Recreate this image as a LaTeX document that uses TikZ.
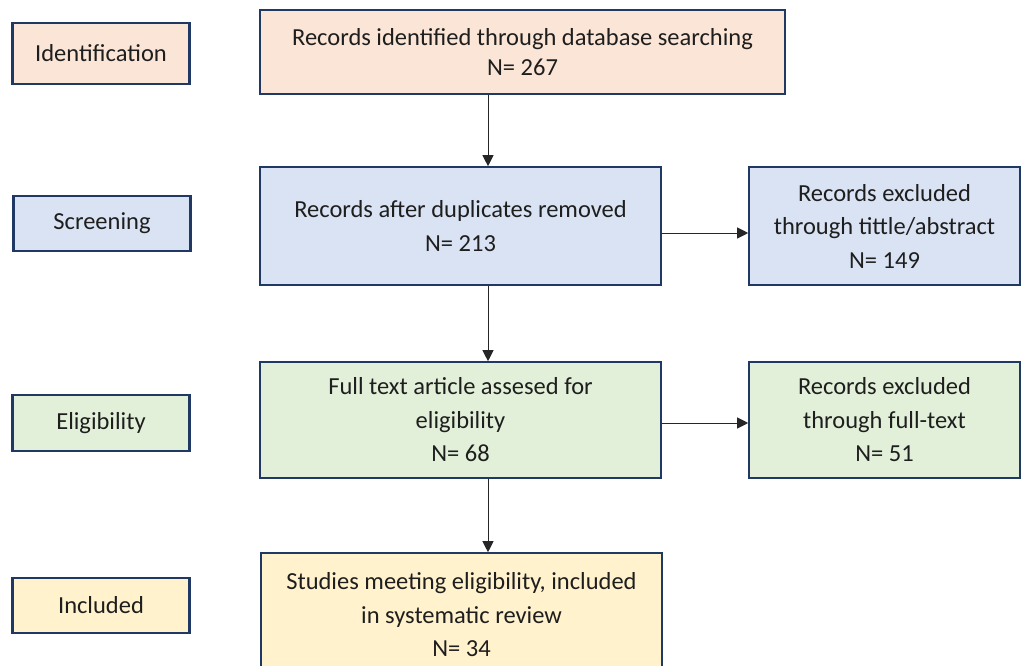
\documentclass[tikz,border=0pt]{standalone}
\usepackage{fontspec}
\setmainfont{Carlito}
\usetikzlibrary{arrows.meta}
\definecolor{navy}{HTML}{203864}
\definecolor{peach}{HTML}{FBE5D6}
\definecolor{lblue}{HTML}{DAE3F3}
\definecolor{lgreen}{HTML}{E2F0D9}
\definecolor{lyellow}{HTML}{FFF2CC}
\definecolor{txt}{HTML}{1E1E1E}
\tikzset{
  box/.style={draw=navy, line width=1.6pt, inner sep=0pt, align=center, text=txt,
    font=\fontsize{24.5}{33.5}\selectfont},
  stage/.style={box, line width=2.4pt, minimum width=177pt},
  conn/.style={line width=0.9pt, draw=black!85, -{Triangle[length=11pt,width=11pt]}}
}
\begin{document}
\begin{tikzpicture}[x=1pt,y=-1pt]
\clip (0,0) rectangle (1022,666);
\fill[white] (0,0) rectangle (1022,666);
% stage labels
\node[stage, fill=peach, minimum height=61pt] (sid) at (101,53.5) {Identification};
\node[stage, fill=lblue, minimum height=55pt] (ssc) at (102,223.5) {Screening};
\node[stage, fill=lgreen, minimum height=56pt] (sel) at (101,423) {Eligibility};
\node[stage, fill=lyellow, minimum height=55pt] (sin) at (101,605.5) {Included};
% main boxes
\node[box, fill=peach, minimum width=525pt, minimum height=84pt, font=\fontsize{24.5}{30}\selectfont] (rid) at (522.5,52) {Records identified through database searching\\N= 267};
\node[box, fill=lblue, minimum width=401pt, minimum height=118pt] (dup) at (460.5,226) {Records after duplicates removed\\N= 213};
\node[box, fill=lblue, minimum width=271pt, minimum height=118pt] (ex1) at (884.5,226) {Records excluded\\through tittle/abstract\\N= 149};
\node[box, fill=lgreen, minimum width=401pt, minimum height=116pt] (ft) at (460.5,420) {Full text article assesed for\\eligibility\\N= 68};
\node[box, fill=lgreen, minimum width=271pt, minimum height=116pt] (ex2) at (884.5,420) {Records excluded\\through full-text\\N= 51};
\node[box, fill=lyellow, minimum width=401pt, minimum height=124pt] (inc) at (461.5,615) {Studies meeting eligibility, included\\in systematic review\\N= 34};
% connectors
\coordinate (c1) at (488,0);
\coordinate (h1) at (0,233);
\coordinate (h2) at (0,423);
\draw[conn] (rid.south -| c1) -- (dup.north -| c1);
\draw[conn] (dup.east |- h1) -- (ex1.west |- h1);
\draw[conn] (dup.south -| c1) -- (ft.north -| c1);
\draw[conn] (ft.east |- h2) -- (ex2.west |- h2);
\draw[conn] (ft.south -| c1) -- (inc.north -| c1);
\end{tikzpicture}
\end{document}
